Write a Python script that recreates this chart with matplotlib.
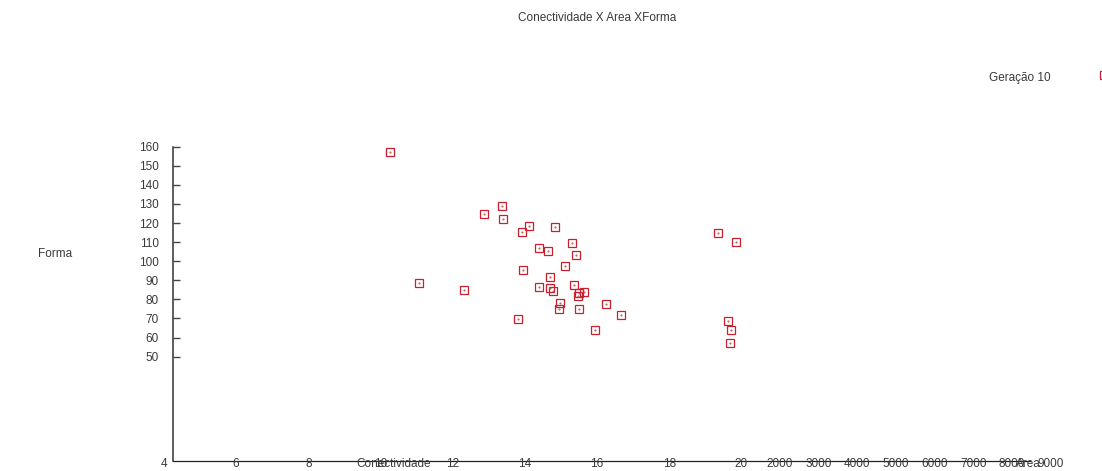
import numpy as np
import matplotlib
matplotlib.use('Agg')
import matplotlib.pyplot as plt
import matplotlib.transforms as mtransforms

plt.rcParams['font.family'] = ['Liberation Sans', 'DejaVu Sans']

# Conectividade (x) and Forma (y) of each individual, Geração 10
conectividade = [10.26, 11.06, 13.36, 12.86, 13.39, 14.11, 13.92, 14.83, 14.39, 14.64,
                 15.30, 15.41, 15.11, 13.94, 12.31, 14.69, 14.39, 14.69, 14.78, 15.36,
                 15.50, 15.63, 15.47, 14.97, 14.94, 15.50, 16.24, 16.66, 13.81, 15.94,
                 19.35, 19.84, 19.62, 19.71, 19.68]
forma = [157.2, 88.6, 128.9, 124.7, 122.1, 118.5, 115.3, 117.9, 106.9, 105.4,
         109.6, 103.3, 97.5, 95.4, 84.9, 91.7, 86.5, 85.9, 84.4, 87.6,
         83.4, 83.9, 81.8, 78.1, 75.0, 75.0, 77.6, 71.8, 69.7, 64.0,
         114.8, 110.1, 68.7, 64.0, 57.2]

conect_ticks = [4, 6, 8, 10, 12, 14, 16, 18, 20]
area_ticks = [2000, 3000, 4000, 5000, 6000, 7000, 8000, 9000]
forma_ticks = [50, 60, 70, 80, 90, 100, 110, 120, 130, 140, 150, 160]

txt_color = '#3a3a3a'
red = '#cc1f2e'


def area_to_x(a):
    # the Area axis continues the Conectividade axis after 20
    return 21.06 + (a - 2000) * 1.073 / 1000.0


fig = plt.figure(figsize=(11.02, 4.71), dpi=100)
ax = fig.add_axes([0.1573, 0.02187, 0.7774, 0.6667])

ax.plot(conectividade, forma, linestyle='none', marker='s', markersize=6,
        markerfacecolor='none', markeredgecolor=red, markeredgewidth=0.9, clip_on=False)
ax.plot(conectividade, forma, linestyle='none', marker='.', markersize=1,
        color='#b05050', clip_on=False)

ax.set_xlim(4.26, 28.0)
ax.set_ylim(-4.5, 160)

for s in ['top', 'right']:
    ax.spines[s].set_visible(False)
ax.spines['left'].set_color('#333333')
ax.spines['left'].set_linewidth(1.1)
ax.spines['bottom'].set_color('#222222')
ax.spines['bottom'].set_linewidth(0.9)

ax.set_yticks(forma_ticks)
ax.set_yticklabels([str(v) for v in forma_ticks])
ax.tick_params(axis='y', direction='in', length=5, width=1.0, color='#444444',
               pad=10.5, labelsize=8.5, labelcolor=txt_color)
ax.set_xticks([])

trans = mtransforms.blended_transform_factory(ax.transData, ax.transAxes)
for v in conect_ticks:
    ax.text(v, -0.011, str(v), transform=trans, ha='center', va='center',
            fontsize=8.5, color=txt_color, clip_on=False)
for a in area_ticks:
    ax.text(area_to_x(a), -0.011, str(a), transform=trans, ha='center', va='center',
            fontsize=8.5, color=txt_color, clip_on=False)

fig.text(394 / 1102, 1 - 464 / 471, 'Conectividade', ha='center', va='center',
         fontsize=8.5, color=txt_color)
fig.text(1028 / 1102, 1 - 464 / 471, 'Area', ha='center', va='center',
         fontsize=8.5, color=txt_color)
fig.text(55 / 1102, 1 - 254 / 471, 'Forma', ha='center', va='center',
         fontsize=8.5, color=txt_color)
fig.text(597 / 1102, 1 - 18 / 471, 'Conectividade X Area XForma', ha='center',
         va='center', fontsize=8.5, color=txt_color)

# legend
fig.text(1020 / 1102, 1 - 78 / 471, 'Geração 10', ha='center', va='center',
         fontsize=8.5, color=txt_color)
fig.add_artist(plt.Line2D([1104 / 1102], [1 - 75 / 471], transform=fig.transFigure,
                          linestyle='none', marker='s', markersize=6,
                          markerfacecolor='none', markeredgecolor=red,
                          markeredgewidth=0.9))

fig.savefig('out.png', dpi=100)
